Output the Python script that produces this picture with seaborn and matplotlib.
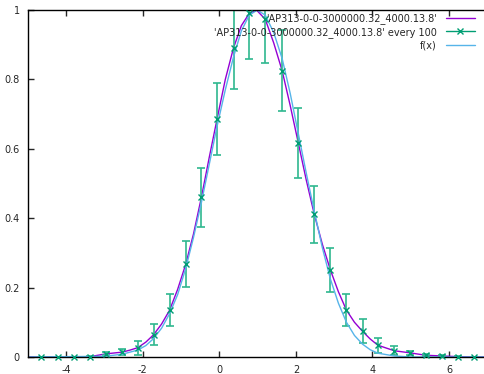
import matplotlib
matplotlib.use("Agg")
import matplotlib.pyplot as plt
import seaborn as sns
from matplotlib.lines import Line2D

px = [-4.65, -4.22, -3.80, -3.38, -2.97, -2.54, -2.13, -1.72, -1.30, -0.88,
      -0.47, -0.06, 0.37, 0.78, 1.20, 1.64, 2.06, 2.48, 2.90, 3.32,
      3.74, 4.14, 4.57, 4.98, 5.39, 5.81, 6.24, 6.65]
py = [0.0, 0.0, 0.0, 0.001, 0.009, 0.014, 0.027, 0.064, 0.135, 0.267,
      0.460, 0.686, 0.891, 0.990, 0.973, 0.825, 0.618, 0.411, 0.251, 0.135,
      0.074, 0.034, 0.018, 0.012, 0.005, 0.003, 0.001, 0.0]
perr = [0.0, 0.0, 0.0, 0.001, 0.004, 0.008, 0.020, 0.030, 0.047, 0.066,
        0.086, 0.104, 0.120, 0.130, 0.127, 0.116, 0.101, 0.082, 0.063, 0.046,
        0.035, 0.022, 0.013, 0.006, 0.003, 0.002, 0.001, 0.0]

# full data line (purple)
dx = [-5.0, -4.65, -4.22, -3.80, -3.38, -2.97, -2.54, -2.33, -2.13, -1.92,
      -1.72, -1.51, -1.30, -1.09, -0.88, -0.675, -0.47, -0.265, -0.06, 0.155,
      0.37, 0.575, 0.78, 0.97, 1.20, 1.42, 1.64, 1.85, 2.06, 2.27,
      2.48, 2.69, 2.90, 3.11, 3.32, 3.53, 3.74, 3.94, 4.14, 4.57,
      4.98, 5.39, 5.81, 6.24, 6.65, 7.0]
dy = [0.0, 0.0, 0.0, 0.0, 0.001, 0.009, 0.014, 0.020, 0.027, 0.043,
      0.064, 0.095, 0.135, 0.195, 0.267, 0.355, 0.460, 0.575, 0.686, 0.800,
      0.891, 0.955, 0.990, 1.0, 0.973, 0.905, 0.825, 0.725, 0.618, 0.510,
      0.411, 0.325, 0.251, 0.188, 0.135, 0.100, 0.074, 0.052, 0.034, 0.018,
      0.012, 0.005, 0.003, 0.001, 0.0, 0.0]

# f(x) fit (light blue)
fx = [-5.0, -3.0, -2.54, -2.13, -1.92, -1.72, -1.51, -1.30, -1.09, -0.88,
      -0.675, -0.47, -0.265, -0.06, 0.155, 0.37, 0.575, 0.78, 0.99, 1.20,
      1.42, 1.64, 1.85, 2.06, 2.27, 2.48, 2.69, 2.90, 3.11, 3.32,
      3.53, 3.74, 3.94, 4.14, 4.57, 5.0, 7.0]
fy = [0.0, 0.002, 0.008, 0.020, 0.033, 0.053, 0.083, 0.125, 0.180, 0.255,
      0.345, 0.445, 0.555, 0.665, 0.770, 0.865, 0.940, 0.985, 1.0, 0.985,
      0.935, 0.860, 0.760, 0.645, 0.530, 0.420, 0.315, 0.225, 0.155, 0.100,
      0.062, 0.037, 0.021, 0.011, 0.003, 0.0, 0.0]

name = "'AP313-0-0-3000000.32_4000.13.8'"
labels = [name, name + " every 100", "f(x)"]
colors = ["#9400d3", "#009e73", "#56b4e9"]

sns.set_style("white")
plt.rcParams['font.family'] = ['DejaVu Sans']
fig = plt.figure(figsize=(4.85, 3.74), dpi=100)
ax = fig.add_axes([28 / 485, 17 / 374, 459.3 / 485, 347 / 374])

sns.lineplot(x=dx, y=dy, ax=ax, color=colors[0], linewidth=1, estimator=None, sort=False)
ax.errorbar(px, py, yerr=perr, fmt="none", ecolor="#2fb88f", elinewidth=1.2,
            capsize=3, capthick=1.2)
sns.lineplot(x=fx, y=fy, ax=ax, color=colors[2], linewidth=1, estimator=None, sort=False)
ax.plot(px, py, linestyle="none", marker="x", markersize=4, markeredgewidth=1,
        color=colors[1], clip_on=False, zorder=5)

ax.set_xlim(-5, 7)
ax.set_ylim(0, 1)
ax.set_xticks([-4, -2, 0, 2, 4, 6])
ax.set_xticklabels(["-4", "-2", "0", "2", "4", "6"])
ax.set_yticks([0, 0.2, 0.4, 0.6, 0.8, 1])
ax.set_yticklabels(["0", "0.2", "0.4", "0.6", "0.8", "1"])
ax.tick_params(direction="in", length=4, width=1, labelsize=7, top=True,
               bottom=True, left=True, pad=6)
for s in ax.spines.values():
    s.set_color("black")
    s.set_linewidth(1)

handles = [Line2D([], [], color=colors[0], linewidth=1),
           Line2D([], [], color=colors[1], linewidth=1, marker="x", markersize=4),
           Line2D([], [], color=colors[2], linewidth=1)]
fig.legend(handles, labels, loc="upper right", bbox_to_anchor=(475 / 485, 1 - 13 / 374),
           frameon=False, fontsize=7, markerfirst=False, handlelength=3.0,
           handletextpad=0.9, labelspacing=0.3, borderpad=0, borderaxespad=0)

fig.savefig("out.png", dpi=100)
